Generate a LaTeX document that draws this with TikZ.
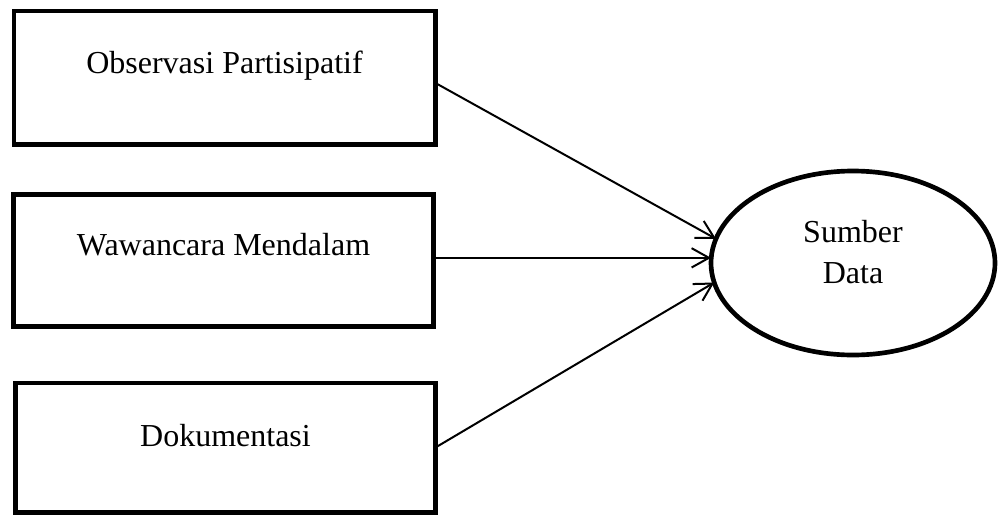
\documentclass[tikz,border=0pt]{standalone}
\usepackage{fontspec}
\setmainfont{Liberation Serif}
\usetikzlibrary{arrows.meta,shapes.geometric}
\begin{document}
\begin{tikzpicture}[x=0.75pt,y=-0.75pt,
  box/.style={draw, line width=3.5pt, rectangle, inner sep=0pt, outer sep=0pt},
  oval/.style={draw, line width=3.5pt, ellipse, inner sep=0pt, outer sep=0pt,
    minimum width=213pt, minimum height=138pt},
  lbl/.style={font=\fontsize{24}{31}\selectfont, align=center},
  conn/.style={line width=1.5pt, -{Straight Barb[length=13pt,width=14.5pt,line width=1.5pt]}}]
\useasboundingbox (0,0) rectangle (999,518);
\node[box, minimum width=316pt, minimum height=100pt,
  label={[lbl, yshift=9pt]center:Observasi Partisipatif}] (b1) at (224.5,77.5) {};
\node[box, minimum width=315pt, minimum height=99pt,
  label={[lbl, yshift=12pt]center:Wawancara Mendalam}] (b2) at (223.5,260.5) {};
\node[box, minimum width=315pt, minimum height=97pt,
  label={[lbl, yshift=9pt]center:Dokumentasi}] (b3) at (225.5,447.5) {};
\node[oval, label={[lbl, yshift=8pt]center:Sumber\\Data}] (e) at (853,263) {};
\draw[conn] ([yshift=-4pt]b1.east) -- (e.170);
\draw[conn] ([yshift=2pt]b2.east) -- ([yshift=2pt]b2.east -| e.west);
\draw[conn] (b3.east) -- (e.188);
\end{tikzpicture}
\end{document}
